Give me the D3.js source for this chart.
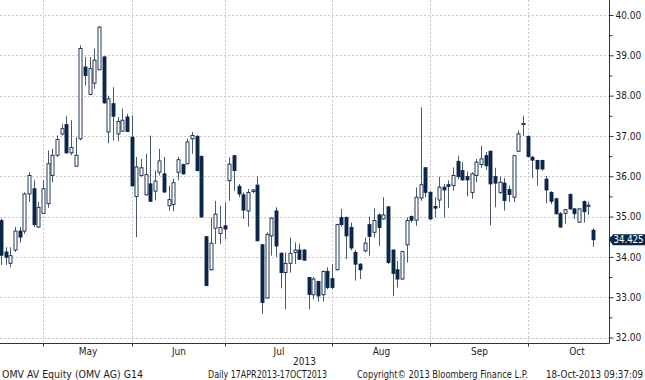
<!DOCTYPE html>
<html><head><meta charset="utf-8">
<script src="https://cdn.jsdelivr.net/npm/d3@7"></script>
<style>
html,body{margin:0;padding:0;background:#fff;}
svg{display:block;}
text{font-family:"DejaVu Sans Condensed","DejaVu Sans",sans-serif;fill:#1c1c1c;}
</style></head>
<body>
<svg id="c" width="645" height="380"></svg>
<script>
// ---- data ----
const tradingDays = [
"2013-04-17","2013-04-18","2013-04-19","2013-04-22","2013-04-23","2013-04-24","2013-04-25","2013-04-26","2013-04-29","2013-04-30",
"2013-05-02","2013-05-03","2013-05-06","2013-05-07","2013-05-08","2013-05-10","2013-05-13","2013-05-14","2013-05-15","2013-05-16","2013-05-17","2013-05-21","2013-05-22","2013-05-23","2013-05-24","2013-05-27","2013-05-28","2013-05-29","2013-05-31",
"2013-06-03","2013-06-04","2013-06-05","2013-06-06","2013-06-07","2013-06-10","2013-06-11","2013-06-12","2013-06-13","2013-06-14","2013-06-17","2013-06-18","2013-06-19","2013-06-20","2013-06-21","2013-06-24","2013-06-25","2013-06-26","2013-06-27","2013-06-28",
"2013-07-01","2013-07-02","2013-07-03","2013-07-04","2013-07-05","2013-07-08","2013-07-09","2013-07-10","2013-07-11","2013-07-12","2013-07-15","2013-07-16","2013-07-17","2013-07-18","2013-07-19","2013-07-22","2013-07-23","2013-07-24","2013-07-25","2013-07-26","2013-07-29","2013-07-30","2013-07-31",
"2013-08-01","2013-08-02","2013-08-05","2013-08-06","2013-08-07","2013-08-08","2013-08-09","2013-08-12","2013-08-13","2013-08-14","2013-08-16","2013-08-19","2013-08-20","2013-08-21","2013-08-22","2013-08-23","2013-08-26","2013-08-27","2013-08-28","2013-08-29","2013-08-30",
"2013-09-02","2013-09-03","2013-09-04","2013-09-05","2013-09-06","2013-09-09","2013-09-10","2013-09-11","2013-09-12","2013-09-13","2013-09-16","2013-09-17","2013-09-18","2013-09-19","2013-09-20","2013-09-23","2013-09-24","2013-09-25","2013-09-26","2013-09-27","2013-09-30",
"2013-10-01","2013-10-02","2013-10-03","2013-10-04","2013-10-07","2013-10-08","2013-10-09","2013-10-10","2013-10-11","2013-10-14","2013-10-15","2013-10-16","2013-10-17","2013-10-18"];

const openPx = [34.90,34.12,33.84,34.17,34.64,34.64,35.56,35.69,34.74,35.08,
35.32,36.02,36.52,37.05,37.28,36.58,36.25,36.93,38.71,38.03,38.31,38.64,38.96,37.10,37.80,37.05,37.12,37.47,36.97,
35.50,36.02,35.54,35.81,35.63,36.10,36.06,35.27,35.30,36.10,36.29,36.31,36.93,36.99,36.49,34.50,33.68,34.71,34.58,34.77,
35.89,36.51,35.75,35.54,35.14,35.62,35.78,34.30,32.98,34.52,35.14,34.09,33.61,33.84,34.11,34.17,34.17,33.49,33.06,33.39,33.06,33.64,33.46,
33.68,34.98,34.98,34.73,34.11,33.82,34.15,34.80,34.61,35.04,34.94,35.24,34.17,33.68,33.45,34.30,35.00,34.91,35.46,36.21,35.60,
35.25,35.41,35.73,35.79,35.77,36.37,36.14,35.99,35.60,36.02,36.29,36.51,36.62,35.99,35.60,35.83,35.67,35.48,36.62,37.28,36.99,
36.47,36.39,36.39,35.93,35.60,35.44,35.07,35.08,35.55,35.19,34.86,35.37,35.26,34.66];
const highPx = [34.95,34.24,34.24,34.74,34.74,35.60,36.10,35.90,35.36,35.91,
36.64,36.68,37.01,37.29,37.49,37.39,36.97,39.25,38.96,38.96,39.17,39.72,38.98,38.00,38.21,37.47,37.68,37.55,37.51,
36.48,36.43,36.56,37.01,36.14,36.68,36.48,35.77,35.94,36.48,36.31,36.93,37.10,37.02,36.52,34.52,34.98,35.39,35.27,35.35,
36.47,36.53,35.81,35.60,35.68,35.68,35.99,34.32,34.61,34.98,35.23,34.11,34.11,34.48,34.36,34.33,34.19,33.50,33.50,33.41,33.66,33.74,33.82,
34.82,35.19,35.00,34.85,34.17,33.84,34.48,35.00,35.20,35.08,35.48,35.26,34.19,33.90,34.15,34.98,35.03,35.72,37.71,36.23,35.64,
35.48,35.99,35.81,35.90,36.22,36.51,36.35,36.12,36.10,36.43,36.76,36.60,36.64,36.21,35.99,35.96,35.77,36.53,37.13,37.50,37.01,
36.51,36.41,36.41,36.01,35.63,35.47,35.11,35.19,35.57,35.21,35.21,35.40,35.37,34.71];
const lowPx = [33.80,33.80,33.74,34.12,34.35,34.57,35.36,34.74,34.72,35.07,
35.22,35.85,36.48,37.01,36.56,36.52,36.23,36.89,38.25,38.01,38.17,38.63,37.80,36.82,36.89,36.87,37.10,37.10,35.75,
34.49,35.98,35.52,35.36,35.40,36.02,35.58,35.15,35.13,35.90,36.04,36.29,36.56,36.12,34.97,33.27,33.66,34.32,34.32,34.44,
35.39,35.64,35.48,34.94,34.75,35.58,34.38,32.59,32.96,34.03,34.00,33.22,32.70,33.61,33.82,33.92,33.90,32.70,32.95,32.89,32.89,33.20,33.20,
33.66,34.75,33.94,34.16,33.41,33.45,34.11,34.03,34.48,34.27,34.92,33.82,33.03,33.24,33.43,33.86,34.85,34.77,35.39,35.48,34.92,
34.98,35.21,34.98,35.21,35.64,35.93,35.88,35.50,35.44,35.85,36.21,36.16,34.78,35.23,35.56,35.15,35.36,35.36,36.60,37.00,36.47,
35.96,35.77,36.14,35.33,35.31,35.05,34.72,34.82,35.17,34.94,34.84,34.85,35.04,34.25];
const closePx = [34.04,33.99,34.03,34.64,34.49,35.56,36.02,34.80,35.23,35.69,
36.31,36.52,36.91,37.18,36.58,36.71,36.52,39.17,38.50,38.67,38.88,39.70,37.82,37.92,37.49,37.36,37.39,37.11,35.76,
36.23,36.21,36.04,35.38,35.88,36.38,35.61,35.42,35.84,36.41,36.06,36.85,37.01,36.14,34.99,33.29,34.34,35.06,34.73,34.69,
36.30,36.14,35.56,35.16,35.60,35.66,34.40,32.87,34.56,34.96,34.27,33.61,33.84,34.09,34.17,33.94,33.92,33.07,33.45,33.03,33.64,33.24,33.24,
34.80,34.80,34.52,34.22,33.82,33.68,34.34,34.51,34.90,34.73,35.04,33.86,33.59,33.45,34.13,34.90,34.91,35.48,35.79,35.60,34.94,
35.21,35.73,35.66,35.75,36.02,35.99,35.91,35.91,36.06,36.35,36.43,36.26,35.81,35.83,35.85,35.40,35.55,36.51,37.05,37.31,36.49,
36.40,36.18,36.18,35.66,35.38,35.07,34.74,35.17,35.19,35.07,35.19,35.12,35.28,34.425];

const monthNames = ["May","Jun","Jul","Aug","Sep","Oct"];
const yTicks = [32,33,34,35,36,37,38,39,40];
const yMinorTicks = [32.5,33.5,34.5,35.5,36.5,37.5,38.5,39.5];
const yearLabel = "2013";
const lastPrice = 34.425;
const footer = ["OMV AV Equity (OMV AG) G14","Daily 17APR2013-17OCT2013","Copyright\u00A9 2013 Bloomberg Finance L.P.","18-Oct-2013 09:37:09"];

// ---- layout ----
const W = 645, H = 380;
const plotL = 0, plotR = 609, plotT = 0, plotB = 343;
const navy = "#0c2748", wickCol = "#4a5a6b", gridCol = "#c6c6c6";

const svg = d3.select("#c");
const candles = tradingDays.map((d,i)=>({d, o:openPx[i], h:highPx[i], l:lowPx[i], c:closePx[i]}));

const x = d3.scalePoint().domain(tradingDays).range([1, 593]);
const y = d3.scaleLinear().domain([32,40]).range([337.5, 15]);

// month boundaries: last trading day of each month
const monthKey = d => d.slice(0,7);
const boundaries = [];
for (let i=0;i<tradingDays.length-1;i++){
  if (monthKey(tradingDays[i]) !== monthKey(tradingDays[i+1])) boundaries.push(Math.round(x(tradingDays[i]))+0.5);
}

// grid
const g = svg.append("g");
g.selectAll("line.hg").data(yTicks).join("line")
  .attr("x1",plotL).attr("x2",plotR)
  .attr("y1",d=>Math.round(y(d))+0.5).attr("y2",d=>Math.round(y(d))+0.5)
  .attr("stroke",gridCol).attr("stroke-dasharray","2,2");
g.selectAll("line.vg").data(boundaries).join("line")
  .attr("x1",d=>d).attr("x2",d=>d).attr("y1",plotT).attr("y2",plotB)
  .attr("stroke",gridCol).attr("stroke-dasharray","2,2");

// candles
const cg = svg.append("g");
cg.selectAll("line.wick").data(candles).join("line")
  .attr("x1",d=>Math.round(x(d.d))+0.5).attr("x2",d=>Math.round(x(d.d))+0.5)
  .attr("y1",d=>y(d.h)).attr("y2",d=>y(d.l))
  .attr("stroke",wickCol).attr("stroke-width",1);
cg.selectAll("rect.body").data(candles).join("rect")
  .attr("x",d=>Math.round(x(d.d))-1)
  .attr("width",3)
  .attr("y",d=>y(Math.max(d.o,d.c)))
  .attr("height",d=>Math.max(1,Math.abs(y(d.o)-y(d.c))))
  .attr("fill",d=>d.c>=d.o?"#fff":navy)
  .attr("stroke",navy).attr("stroke-width",0.9);

// right axis
const ya = svg.append("g").attr("transform",`translate(${plotR+0.5},0)`)
  .call(d3.axisRight(y).tickValues(yTicks).tickSize(4).tickPadding(2).tickFormat(d3.format(".2f")));
ya.select(".domain").remove();
ya.selectAll("line").attr("stroke","#333");
ya.selectAll("text").attr("font-size","10px").attr("font-family",'"DejaVu Sans Condensed","DejaVu Sans",sans-serif').attr("fill","#1c1c1c");
const ym = svg.append("g").attr("transform",`translate(${plotR+0.5},0)`)
  .call(d3.axisRight(y).tickValues(yMinorTicks).tickSize(3).tickFormat(""));
ym.select(".domain").remove();
ym.selectAll("line").attr("stroke","#333");
svg.append("line").attr("x1",plotR+0.5).attr("x2",plotR+0.5).attr("y1",0).attr("y2",plotB+0.5).attr("stroke","#333");

// bottom axis
svg.append("line").attr("x1",0).attr("x2",plotR+0.5).attr("y1",plotB+0.5).attr("y2",plotB+0.5).attr("stroke","#333");
svg.selectAll("line.xt").data(boundaries).join("line")
  .attr("x1",d=>d).attr("x2",d=>d).attr("y1",plotB).attr("y2",plotB+3.5).attr("stroke","#333");

const avgW = d3.mean(d3.pairs(boundaries), p=>p[1]-p[0]);
const labelPos = boundaries.map((b,i)=> i<boundaries.length-1 ? (b+boundaries[i+1])/2 : b+avgW/2);
svg.selectAll("text.mon").data(monthNames).join("text")
  .attr("x",(d,i)=>labelPos[i]).attr("y",354.5)
  .attr("text-anchor","middle").attr("font-size","10px").text(d=>d);
svg.append("text").attr("x",(plotL+plotR)/2).attr("y",364.5).attr("text-anchor","middle")
  .attr("font-size","10px").text(yearLabel);

// footer
const fx = [2, 208, 357, 546];
const fw = [141, 119, 171, 97];
svg.selectAll("text.ft").data(footer).join("text")
  .attr("x",(d,i)=>fx[i]).attr("y",378).attr("font-size","10px")
  .attr("textLength",(d,i)=>fw[i]).attr("lengthAdjust","spacingAndGlyphs").text(d=>d);

// last price tag
const ly = y(lastPrice);
svg.append("path")
  .attr("d",`M${plotR},${ly} L${plotR+4},${ly-5.5} L${W},${ly-5.5} L${W},${ly+5.5} L${plotR+4},${ly+5.5} Z`)
  .attr("fill",navy);
svg.append("text").attr("x",613.5).attr("y",ly+3.6).attr("font-size","10px")
  .attr("textLength",30).attr("lengthAdjust","spacingAndGlyphs")
  .style("fill","#fff").text(d3.format(".3f")(lastPrice));
</script>
</body></html>
